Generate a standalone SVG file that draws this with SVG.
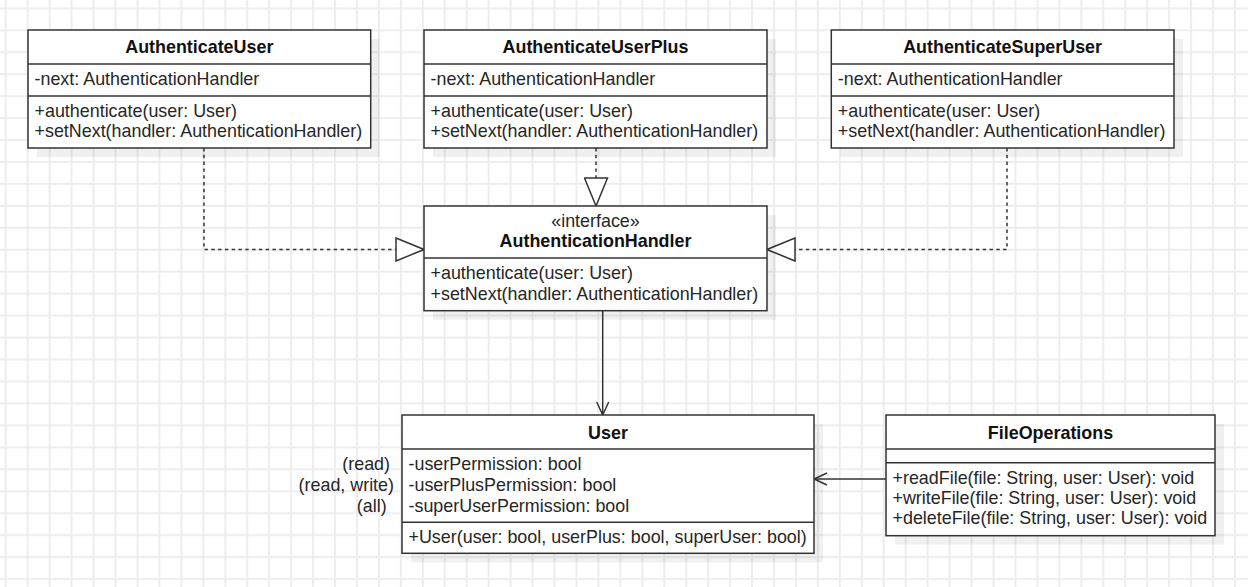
<svg xmlns="http://www.w3.org/2000/svg" width="1248" height="587" viewBox="0 0 1248 587">
<style>
.box{fill:#fff;stroke:#333;stroke-width:1.5}
.shadow{fill:#000;fill-opacity:0.06}
.div{stroke:#333;stroke-width:1.5}
.t{font-family:"Liberation Sans",Arial,Helvetica,sans-serif;font-size:17.9px;fill:#262626}
.b{font-weight:bold;fill:#111;text-anchor:middle}
.c{text-anchor:middle}
.r{text-anchor:end}
.dash{fill:none;stroke:#333;stroke-width:1.5;stroke-dasharray:3.4 3.4}
.solid{fill:none;stroke:#333;stroke-width:1.5}
</style>
<defs>
<pattern id="grid" patternUnits="userSpaceOnUse" x="4.8" y="7.4" width="21.95" height="21.95">
<path d="M0.9 0V21.95M0 0.9H21.95" stroke="#ececec" stroke-width="1.8" fill="none"/>
</pattern>
<marker id="tri" markerUnits="userSpaceOnUse" viewBox="-1 -1 30 25" refX="28" refY="11.5" markerWidth="30" markerHeight="25" orient="auto">
<path d="M0 0L28 11.5L0 23Z" fill="#fff" stroke="#333" stroke-width="1.5"/>
</marker>
<marker id="open" markerUnits="userSpaceOnUse" viewBox="-1 -1 16 16" refX="13" refY="7" markerWidth="16" markerHeight="16" orient="auto">
<path d="M0 1L13 7L0 13" fill="none" stroke="#333" stroke-width="1.5"/>
</marker>
</defs>
<rect width="1248" height="587" fill="#fff"/>
<rect width="1248" height="587" fill="url(#grid)"/>

<g id="connectors">
<path class="dash" d="M204 148V249.5H424" marker-end="url(#tri)"/>
<path class="dash" d="M596 148V206" marker-end="url(#tri)"/>
<path class="dash" d="M1007 148V249.5H767" marker-end="url(#tri)"/>
<path class="solid" d="M602.7 310.7V415" marker-end="url(#open)"/>
<path class="solid" d="M886 479H814" marker-end="url(#open)"/>
</g>

<g id="AuthenticateUser">
<rect class="shadow" x="37" y="39" width="342.7" height="118"/>
<rect class="box" x="28" y="30" width="342.7" height="118"/>
<line class="div" x1="28" y1="64" x2="370.7" y2="64"/>
<line class="div" x1="28" y1="96" x2="370.7" y2="96"/>
<text class="t b" x="199.3" y="53.3">AuthenticateUser</text>
<text class="t" x="34.5" y="85">-next: AuthenticationHandler</text>
<text class="t" x="34.5" y="117.3">+authenticate(user: User)</text>
<text class="t" x="34.5" y="137.3">+setNext(handler: AuthenticationHandler)</text>
</g>

<g id="AuthenticateUserPlus">
<rect class="shadow" x="433" y="39" width="343" height="118"/>
<rect class="box" x="424" y="30" width="343" height="118"/>
<line class="div" x1="424" y1="64" x2="767" y2="64"/>
<line class="div" x1="424" y1="96" x2="767" y2="96"/>
<text class="t b" x="595.5" y="53.3">AuthenticateUserPlus</text>
<text class="t" x="430.5" y="85">-next: AuthenticationHandler</text>
<text class="t" x="430.5" y="117.3">+authenticate(user: User)</text>
<text class="t" x="430.5" y="137.3">+setNext(handler: AuthenticationHandler)</text>
</g>

<g id="AuthenticateSuperUser">
<rect class="shadow" x="840.3" y="39" width="342.7" height="118"/>
<rect class="box" x="831.3" y="30" width="342.7" height="118"/>
<line class="div" x1="831.3" y1="64" x2="1174" y2="64"/>
<line class="div" x1="831.3" y1="96" x2="1174" y2="96"/>
<text class="t b" x="1002.6" y="53.3">AuthenticateSuperUser</text>
<text class="t" x="837.8" y="85">-next: AuthenticationHandler</text>
<text class="t" x="837.8" y="117.3">+authenticate(user: User)</text>
<text class="t" x="837.8" y="137.3">+setNext(handler: AuthenticationHandler)</text>
</g>

<g id="AuthenticationHandler">
<rect class="shadow" x="433" y="215" width="343" height="104.7"/>
<rect class="box" x="424" y="206" width="343" height="104.7"/>
<line class="div" x1="424" y1="258" x2="767" y2="258"/>
<text class="t c" x="595.5" y="226.7">«interface»</text>
<text class="t b" x="595.5" y="246.7">AuthenticationHandler</text>
<text class="t" x="430.5" y="279">+authenticate(user: User)</text>
<text class="t" x="430.5" y="299.5">+setNext(handler: AuthenticationHandler)</text>
</g>

<g id="User">
<rect class="shadow" x="411" y="424" width="412" height="138.3"/>
<rect class="box" x="402" y="415" width="412" height="138.3"/>
<line class="div" x1="402" y1="449" x2="814" y2="449"/>
<line class="div" x1="402" y1="522.3" x2="814" y2="522.3"/>
<text class="t b" x="608" y="438.5">User</text>
<text class="t" x="408.5" y="470">-userPermission: bool</text>
<text class="t" x="408.5" y="491">-userPlusPermission: bool</text>
<text class="t" x="408.5" y="511.5">-superUserPermission: bool</text>
<text class="t" x="408.5" y="542.7">+User(user: bool, userPlus: bool, superUser: bool)</text>
</g>

<g id="permissions">
<text class="t r" x="390" y="470">(read)</text>
<text class="t r" x="394" y="491">(read, write)</text>
<text class="t r" x="386.7" y="511.5">(all)</text>
</g>

<g id="FileOperations">
<rect class="shadow" x="895" y="424" width="329" height="120.7"/>
<rect class="box" x="886" y="415" width="329" height="120.7"/>
<line class="div" x1="886" y1="449" x2="1215" y2="449"/>
<line class="div" x1="886" y1="462.7" x2="1215" y2="462.7"/>
<text class="t b" x="1050.5" y="438.5">FileOperations</text>
<text class="t" x="892.5" y="484">+readFile(file: String, user: User): void</text>
<text class="t" x="892.5" y="504">+writeFile(file: String, user: User): void</text>
<text class="t" x="892.5" y="524">+deleteFile(file: String, user: User): void</text>
</g>
</svg>
